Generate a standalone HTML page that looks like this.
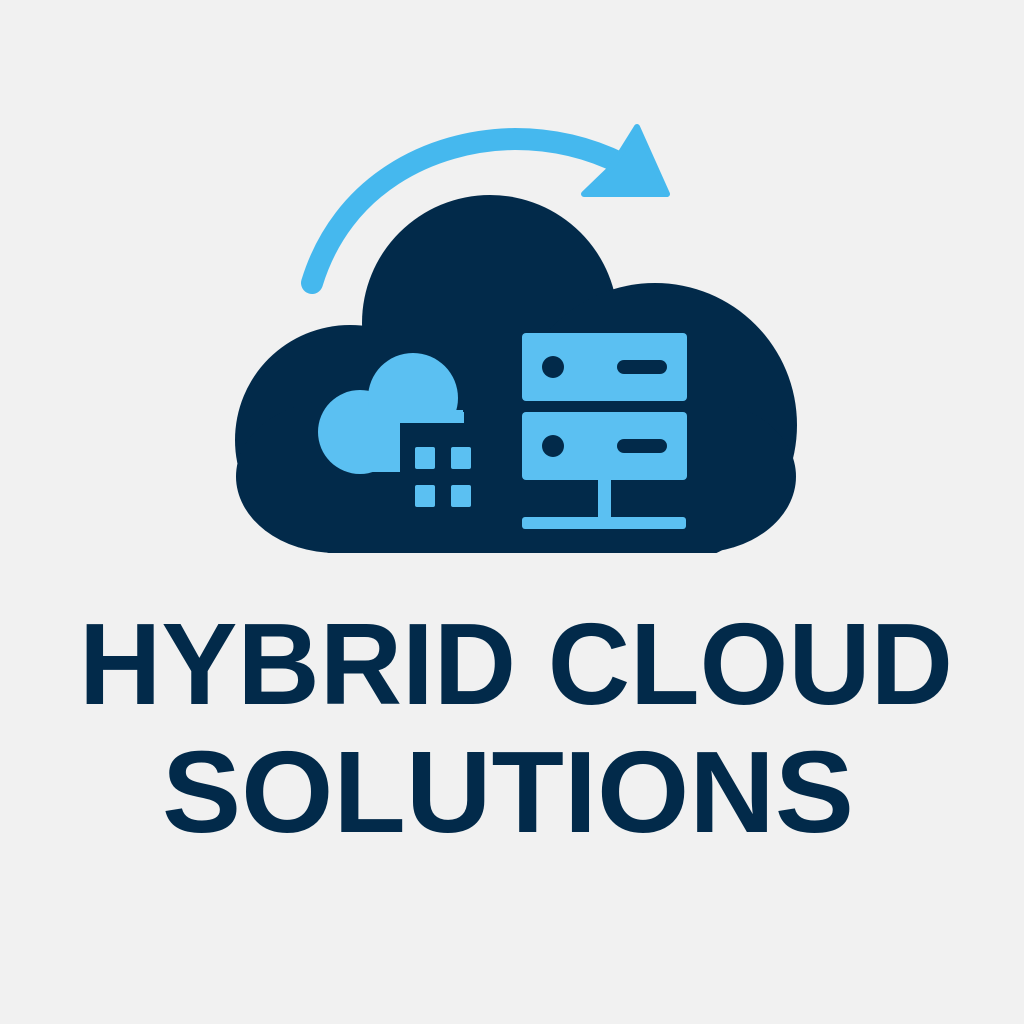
<!DOCTYPE html>
<html><head><style>html,body{margin:0;padding:0;background:#f1f1f1;}svg{display:block}</style></head>
<body>
<svg width="1024" height="1024" viewBox="0 0 1024 1024" xmlns="http://www.w3.org/2000/svg">
<defs><clipPath id="c"><rect x="0" y="0" width="1024" height="553"/></clipPath></defs>
<rect width="1024" height="1024" fill="#f1f1f1"/>
<!-- arrow -->
<path d="M312,283 C342,185 430,140 515,139 C555,139 590,148 622,164" fill="none" stroke="#45b8ee" stroke-width="22" stroke-linecap="round"/>
<path d="M637,127 L667,194 L584,194 L612,167 Z" fill="#45b8ee" stroke="#45b8ee" stroke-width="6" stroke-linejoin="round"/>
<!-- big cloud -->
<g fill="#022a4a" clip-path="url(#c)">
<circle cx="490" cy="323" r="128"/>
<circle cx="350" cy="440" r="115"/>
<circle cx="655" cy="425" r="142"/>
<rect x="236" y="400" width="560" height="153" rx="100"/>
<rect x="340" y="330" width="330" height="223"/>
</g>
<!-- small cloud -->
<g fill="#5bc0f2">
<circle cx="360" cy="432" r="42"/>
<circle cx="413" cy="398" r="45"/>
<rect x="360" y="410" width="103" height="62"/>
<rect x="348" y="440" width="60" height="32"/>
</g>
<rect x="400" y="423" width="70" height="60" fill="#022a4a"/>
<rect x="458" y="412" width="6" height="11" fill="#5bc0f2"/>
<g fill="#5bc0f2">
<rect x="415" y="447" width="20" height="22" rx="2"/>
<rect x="451" y="447" width="20" height="22" rx="2"/>
<rect x="415" y="485" width="20" height="22" rx="2"/>
<rect x="451" y="485" width="20" height="22" rx="2"/>
<!-- server -->
<rect x="522" y="333" width="165" height="68" rx="4"/>
<rect x="522" y="412" width="165" height="68" rx="4"/>
<rect x="598" y="478" width="13" height="42"/>
<rect x="522" y="517" width="164" height="12" rx="3"/>
</g>
<g fill="#022a4a">
<circle cx="553" cy="367" r="11"/>
<circle cx="553" cy="446" r="11"/>
<rect x="617" y="360" width="50" height="14" rx="7"/>
<rect x="617" y="439" width="50" height="14" rx="7"/>
</g>
<g font-family="Liberation Sans, sans-serif" font-weight="bold" fill="#022a4a" font-size="116">
<text x="79" y="704" textLength="874" lengthAdjust="spacingAndGlyphs">HYBRID CLOUD</text>
<text x="162" y="832" textLength="692" lengthAdjust="spacingAndGlyphs">SOLUTIONS</text>
</g>
</svg>
</body></html>
